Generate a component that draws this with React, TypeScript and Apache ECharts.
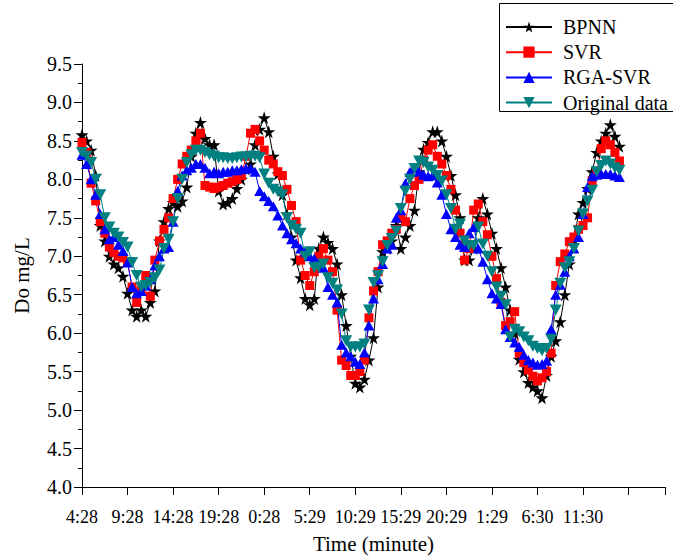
import React, { useEffect, useRef } from "react";
import * as echarts from "echarts";

const timeLabels = ["4:28", "9:28", "14:28", "19:28", "0:28", "5:29", "10:29", "15:29", "20:29", "1:29", "6:30", "11:30"];

const bpnn = [
  8.58, 8.5, 8.38, 8.05, 7.4, 7.2, 7.0, 6.9, 6.85, 6.74,
  6.52, 6.3, 6.22, 6.3, 6.22, 6.4, 6.55, 7.2, 7.45, 7.62,
  7.7, 7.65, 7.72, 7.9, 8.3, 8.6, 8.74, 8.53, 8.45, 8.45,
  7.85, 7.68, 7.7, 7.75, 7.88, 8.0, 8.13, 8.2, 8.45, 8.65,
  8.8, 8.62, 8.3, 8.07, 7.8, 7.55, 7.25, 6.95, 6.72, 6.45,
  6.37, 6.45, 7.1, 7.25, 7.18, 7.1, 6.9, 6.5, 6.1, 5.7,
  5.35, 5.3, 5.4, 5.65, 5.94, 6.6, 7.06, 7.1, 7.2, 7.4,
  7.1, 7.25, 7.4, 7.6, 8.1, 8.39, 8.48, 8.62, 8.62, 8.5,
  8.3, 8.05, 7.8, 7.5, 6.95, 6.95, 7.1, 7.5, 7.75, 7.55,
  7.3, 7.1, 6.85, 6.6, 6.3, 6.0, 5.66, 5.5, 5.36, 5.3,
  5.25, 5.16, 5.45, 5.7, 5.9, 6.15, 6.5, 6.9, 7.2, 7.55,
  7.7, 7.88, 8.1, 8.35, 8.5, 8.6, 8.71, 8.56, 8.43,
];

const svr = [
  8.48, 8.35, 7.95, 7.72, 7.45, 7.3, 7.12, 7.05, 7.0, 6.98,
  6.92, 6.6, 6.4, 6.55, 6.75, 6.48, 6.95, 7.2, 7.35, 7.5,
  7.75, 8.0, 8.2, 8.3, 8.38, 8.5, 8.6, 7.92, 7.9, 7.88,
  7.9, 7.92, 7.95, 7.97, 8.0, 8.05, 8.3, 8.6, 8.65, 8.5,
  8.38, 8.25, 8.2, 8.1, 8.05, 7.87, 7.66, 7.45, 6.95, 6.75,
  6.62, 6.8, 7.0, 7.1, 6.95, 6.8, 6.3, 5.65, 5.58, 5.45,
  5.45, 5.5, 5.65, 6.2, 6.55, 6.8, 7.15, 7.2, 7.3, 7.35,
  7.5, 7.45, 7.75, 7.92, 8.0, 8.25, 8.38, 8.45, 8.3, 8.2,
  8.05, 7.87, 7.6, 7.3, 6.95, 7.1, 7.6, 7.68, 7.45, 7.28,
  7.0, 6.71, 6.4, 6.1, 6.15, 6.28, 5.74, 5.62, 5.52, 5.44,
  5.38, 5.42, 5.5, 5.74, 6.62, 6.93, 7.03, 7.19, 7.25, 7.35,
  7.4, 7.5, 7.98, 8.1, 8.4, 8.5, 8.45, 8.35, 8.24,
];

const rgaSvr = [
  8.32, 8.2, 8.0, 7.8, 7.55, 7.35, 7.22, 7.25, 7.15, 7.07,
  6.92, 6.6, 6.52, 6.55, 6.62, 6.7, 6.88, 7.0, 7.1, 7.12,
  7.45, 7.85, 8.05, 8.12, 8.15, 8.2, 8.2, 8.15, 8.08, 8.1,
  8.08, 8.1, 8.1, 8.12, 8.12, 8.13, 8.14, 8.14, 8.1, 7.85,
  7.78, 7.72, 7.65, 7.53, 7.4, 7.3, 7.22, 7.17, 7.1, 7.06,
  7.0, 6.97, 6.9, 6.85, 6.6, 6.5, 6.4, 5.85, 5.75, 5.7,
  5.63, 5.6, 5.75, 6.1, 6.45, 6.7, 6.9, 7.1, 7.15, 7.5,
  7.6, 7.95, 8.1, 8.15, 8.1, 8.06, 8.04, 8.05, 7.96, 7.8,
  7.55, 7.35, 7.25, 7.15, 7.12, 7.3, 7.38, 7.1, 6.93, 6.7,
  6.52, 6.45, 6.38, 6.05, 5.95, 5.88, 5.82, 5.72, 5.65, 5.62,
  5.59, 5.6, 5.64, 6.05, 6.5, 6.63, 6.8, 7.0, 7.1, 7.25,
  7.55, 7.9, 8.04, 8.06, 8.07, 8.07, 8.07, 8.05, 8.03,
];

const original = [
  8.35, 8.3, 8.22, 8.0, 7.8, 7.5, 7.38, 7.3, 7.25, 7.18,
  7.12, 6.92, 6.75, 6.6, 6.62, 6.66, 6.72, 6.82, 7.1, 7.22,
  7.45, 7.75, 8.0, 8.22, 8.32, 8.38, 8.38, 8.35, 8.32, 8.3,
  8.28, 8.28, 8.27, 8.27, 8.28, 8.29, 8.29, 8.3, 8.3, 8.28,
  8.07, 7.95, 7.87, 7.84, 7.8, 7.5, 7.4, 7.35, 7.3, 7.0,
  7.06, 6.85, 6.86, 6.9, 6.72, 6.65, 6.56, 6.25, 5.9, 5.82,
  5.82, 5.82, 5.86, 6.3, 6.66, 6.75, 6.93, 7.14, 7.23, 7.33,
  7.62, 7.85, 8.0, 8.14, 8.24, 8.22, 8.16, 8.12, 8.05, 7.98,
  7.8, 7.62, 7.35, 7.42, 7.2, 7.14, 7.14, 7.38, 7.16, 7.0,
  6.8, 6.6, 6.48, 6.37, 5.95, 6.05, 6.02, 5.95, 5.9, 5.83,
  5.8, 5.77, 5.8, 5.92, 6.3, 6.65, 6.85, 6.93, 7.1, 7.33,
  7.55, 7.72, 7.86, 8.1, 8.18, 8.24, 8.2, 8.15, 8.12,
];

const STAR = "path://M50,0 L61,35 L98,35 L68,57 L79,91 L50,70 L21,91 L32,57 L2,35 L39,35 Z";
const DOWN_TRI = "path://M0,0 L100,0 L50,87 Z";
const FONT = "Liberation Serif";

function toPairs(arr: number[]) {
  return arr.map((v, i) => [i, v]);
}

export default function App() {
  const ref = useRef<HTMLDivElement>(null);
  useEffect(() => {
    if (!ref.current) return;
    const chart = echarts.init(ref.current, null, { renderer: "svg" });
    const mk = (name: string, data: number[], color: string, symbol: string, size: number | number[]) => ({
      name,
      type: "line",
      data: toPairs(data),
      symbol,
      symbolSize: size,
      showAllSymbol: true,
      lineStyle: { color, width: 1 },
      itemStyle: { color, borderWidth: 0 },
      emphasis: { disabled: true },
    });
    chart.setOption({
      animation: false,
      backgroundColor: "#fff",
      textStyle: { fontFamily: FONT },
      grid: { left: 82, right: 8, top: 64, bottom: 69 },
      legend: {
        orient: "vertical",
        left: 500,
        top: 12,
        itemWidth: 46,
        itemHeight: 14,
        itemGap: 5.2,
        textStyle: { fontFamily: FONT, fontSize: 20, lineHeight: 20, color: "#000", padding: [0, 0, 0, 6] },
        data: ["BPNN", "SVR", "RGA-SVR", "Original data"],
      },
      graphic: [
        {
          type: "rect",
          shape: { x: 499.5, y: 3.5, width: 200, height: 108 },
          style: { fill: "none", stroke: "#000", lineWidth: 1 },
          silent: true,
        },
      ],
      xAxis: {
        type: "value",
        min: 0,
        max: 128,
        interval: 10,
        name: "Time (minute)",
        nameLocation: "middle",
        nameGap: 46,
        nameTextStyle: { fontFamily: FONT, fontSize: 21, color: "#000" },
        axisLine: { show: true, lineStyle: { color: "#000", width: 1 } },
        axisTick: { show: true, inside: false, length: 8, lineStyle: { color: "#000" } },
        splitLine: { show: false },
        axisLabel: {
          fontFamily: FONT,
          fontSize: 18,
          color: "#000",
          margin: 21,
          formatter: (v: number) => {
            const k = Math.round(v / 10);
            if (Math.abs(v - k * 10) > 0.01) return "";
            return timeLabels[k] ?? "";
          },
        },
      },
      yAxis: {
        type: "value",
        min: 4,
        max: 9.5,
        interval: 0.5,
        name: "Do mg/L",
        nameLocation: "middle",
        nameGap: 50,
        nameTextStyle: { fontFamily: FONT, fontSize: 21, color: "#000" },
        axisLine: { show: true, lineStyle: { color: "#000", width: 1 } },
        axisTick: { show: true, inside: false, length: 8, lineStyle: { color: "#000" } },
        minorTick: { show: true, splitNumber: 2, length: 4, lineStyle: { color: "#000" } },
        splitLine: { show: false },
        axisLabel: {
          fontFamily: FONT,
          fontSize: 20,
          color: "#000",
          margin: 10,
          formatter: (v: number) => v.toFixed(1),
        },
      },
      series: [
        mk("BPNN", bpnn, "#000000", STAR, 13),
        mk("SVR", svr, "#ff0000", "rect", 9),
        mk("RGA-SVR", rgaSvr, "#0000ff", "triangle", [11, 10]),
        mk("Original data", original, "#008080", DOWN_TRI, [12, 11]),
      ],
    });
    return () => chart.dispose();
  }, []);
  return <div ref={ref} style={{ position: "absolute", left: 0, top: 0, width: 673, height: 559 }} />;
}
